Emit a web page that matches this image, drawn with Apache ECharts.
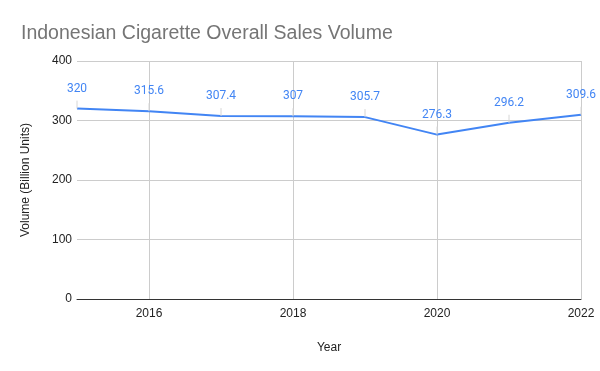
<!DOCTYPE html>
<html>
<head>
<meta charset="utf-8">
<script src="https://cdn.jsdelivr.net/npm/echarts@6/dist/echarts.min.js"></script>
<style>html,body{margin:0;padding:0;background:#fff}#c{width:600px;height:371px}</style>
</head>
<body>
<div id="c"></div>
<script>
var years = ['2015','2016','2017','2018','2019','2020','2021','2022'];
var volume = [320, 315.6, 307.4, 307, 305.7, 276.3, 296.2, 309.6];
var yTicks = [0, 100, 200, 300, 400];

var chart = echarts.init(document.getElementById('c'));
chart.setOption({
  backgroundColor: '#fff',
  animation: false,
  title: {
    text: 'Indonesian Cigarette Overall Sales Volume',
    left: 16, top: 19,
    textStyle: {fontFamily: 'Liberation Sans, Arial', fontSize: 19.5, fontWeight: 'normal', color: '#757575'}
  },
  grid: {left: 77, right: 19, top: 61, bottom: 72},
  xAxis: {
    type: 'category',
    data: years,
    boundaryGap: false,
    name: 'Year',
    nameLocation: 'middle',
    nameGap: 43,
    nameTextStyle: {fontFamily: 'Liberation Sans, Arial', fontSize: 12, color: '#222'},
    axisLine: {show: true, lineStyle: {color: '#333', width: 1}},
    axisTick: {show: false},
    axisLabel: {
      interval: function (i) { return i % 2 === 1; },
      fontFamily: 'Liberation Sans, Arial', fontSize: 12, color: '#222', margin: 9
    },
    splitLine: {
      show: true,
      interval: function (i) { return i % 2 === 1; },
      lineStyle: {color: '#ccc', width: 1}
    }
  },
  yAxis: {
    type: 'value',
    min: yTicks[0], max: yTicks[yTicks.length - 1], interval: 100,
    name: 'Volume (Billion Units)',
    nameLocation: 'middle',
    nameGap: 45,
    nameTextStyle: {fontFamily: 'Liberation Sans, Arial', fontSize: 12, color: '#222'},
    axisLine: {show: false},
    axisTick: {show: false},
    axisLabel: {fontFamily: 'Liberation Sans, Arial', fontSize: 12, color: '#222', margin: 5},
    splitLine: {show: true, lineStyle: {color: '#ccc', width: 1}}
  },
  series: [{
    type: 'line',
    data: volume,
    showSymbol: true,
    symbol: 'circle',
    symbolSize: 0,
    lineStyle: {color: '#4285f4', width: 2},
    itemStyle: {color: '#4285f4'},
    label: {
      show: true,
      position: 'top',
      distance: 14,
      fontFamily: 'Roboto, Liberation Sans, Arial',
      fontSize: 12,
      color: '#4285f4'
    },
    labelLine: {show: true, lineStyle: {color: '#d6d6d6', width: 1}}
  }]
});
</script>
</body>
</html>
